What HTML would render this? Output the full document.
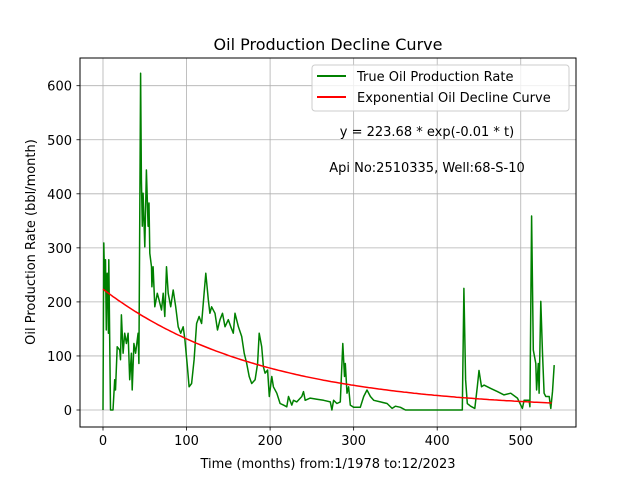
<!DOCTYPE html>
<html><head><meta charset="utf-8"><style>
body{margin:0;background:#fff}
svg{display:block;font-family:"DejaVu Sans","Liberation Sans",sans-serif}
</style></head><body>
<svg id="chart" width="640" height="480" viewBox="0 0 640 480">
<rect width="640" height="480" fill="#fff"/>
<g id="grid"></g>
<g id="series"></g>
<rect x="80" y="58" width="496" height="369" fill="none" stroke="#000" stroke-width="1"/>
<g id="ticks"></g>
<text x="328" y="50" text-anchor="middle" font-size="16">Oil Production Decline Curve</text>
<text x="328" y="468" text-anchor="middle" font-size="13">Time (months) from:1/1978 to:12/2023</text>
<text transform="translate(35,242) rotate(-90)" text-anchor="middle" font-size="13">Oil Production Rate (bbl/month)</text>
<text x="427" y="136" text-anchor="middle" font-size="13">y = 223.68 * exp(-0.01 * t)</text>
<text x="427" y="172" text-anchor="middle" font-size="13">Api No:2510335, Well:68-S-10</text>
<g>
<rect x="312" y="65" width="257" height="46" rx="3" fill="#fff" fill-opacity="0.8" stroke="#ccc"/>
<line x1="317" y1="76" x2="346" y2="76" stroke="green" stroke-width="2"/>
<text x="357" y="81" font-size="13">True Oil Production Rate</text>
<line x1="317" y1="97" x2="346" y2="97" stroke="red" stroke-width="2"/>
<text x="357" y="102" font-size="13">Exponential Oil Decline Curve</text>
</g>
</svg>
<script>
const months=[0,1,2,3,4,5,6,6.5,7,9,12,14,15,17,20,21,22,24,26,28,30,32,34,35,37,39,42,43,45,46,47,48,50,52,54,55,56,58,58.5,60,62,65,67,70,72,74,76,78,81,84,87,90,93,96,98,101,103,106,109,112,115,118,121,123,126,128,130,134,137,140,143,146,150,153,156,158,162,166,169,172,175,178,182,185,187,190,192,194,197,199,202,204,208,212,216,220,222,226,228,232,238,240,242,248,256,264,272,274,276,280,284,287,289,290,292,294,296,300,308,312,316,320,324,332,340,346,350,356,362,430,432,434,436,440,445,448,450,453,456,464,472,480,488,496,502,504,510,511,513,515,518,519,521,522,524,526,528,530,534,536,538,540];
const rates=[0,309,222,278,148,253,216,142,278,0,0,56,37,117,111,93,176,105,142,123,142,56,105,37,123,105,142,86,623,426,340,401,302,444,340,383,290,265,228,265,191,216,204,185,216,173,265,216,191,222,191,154,142,154,130,80,43,49,93,160,173,160,216,253,204,179,191,179,148,167,179,154,167,154,142,179,154,136,105,86,62,49,56,86,142,117,80,68,74,25,62,43,31,12,9,6,25,9,18,15,25,34,18,22,20,18,15,0,18,12,15,123,62,86,31,43,9,5,5,25,37,25,18,15,12,3,7,5,0,0,225,56,12,7,3,43,73,43,46,40,34,28,31,22,3,18,18,6,359,111,86,37,86,31,201,105,31,25,25,3,34,83];
const fitA=223.68, fitK=0.0053, fitEnd=539;
const xTicks=[0,100,200,300,400,500];
const yTicks=[0,100,200,300,400,500,600];
const xs=v=>103+v*0.8355;
const ys=v=>410-v*0.5405;
const NS='http://www.w3.org/2000/svg';
const grid=document.getElementById('grid'),ticks=document.getElementById('ticks'),series=document.getElementById('series');
function mk(tag,attrs,parent){const e=document.createElementNS(NS,tag);for(const k in attrs)e.setAttribute(k,attrs[k]);parent.appendChild(e);return e;}
xTicks.forEach(t=>{
 const x=xs(t);
 const g=mk('line',{x1:x,x2:x,y1:58,y2:427,stroke:'#b0b0b0','stroke-width':0.8},grid);
 
 
 const tk=mk('line',{x1:x,x2:x,y1:427,y2:430.5,stroke:'#000','stroke-width':0.8},ticks);
 
 
 const tx=mk('text',{x:x,y:445,'text-anchor':'middle','font-size':13},ticks);
 tx.textContent=t;
 
 
});
yTicks.forEach(t=>{
 const y=ys(t);
 const g=mk('line',{x1:80,x2:576,y1:y,y2:y,stroke:'#b0b0b0','stroke-width':0.8},grid);
 
 
 const tk=mk('line',{x1:76.5,x2:80,y1:y,y2:y,stroke:'#000','stroke-width':0.8},ticks);
 
 
 const tx=mk('text',{x:72,y:y+5,'text-anchor':'end','font-size':13},ticks);
 tx.textContent=t;
 
 
});
const pts=months.map((m,i)=>xs(m).toFixed(1)+','+ys(rates[i]).toFixed(1)).join(' ');
const pl=mk('polyline',{points:pts,fill:'none',stroke:'green','stroke-width':1.5,'stroke-linejoin':'round'},series);


const fp=[];for(let t=0;t<=fitEnd;t+=3)fp.push(xs(t).toFixed(1)+','+ys(fitA*Math.exp(-fitK*t)).toFixed(1));
const fl=mk('polyline',{points:fp.join(' '),fill:'none',stroke:'red','stroke-width':1.5},series);


</script>
</body></html>
